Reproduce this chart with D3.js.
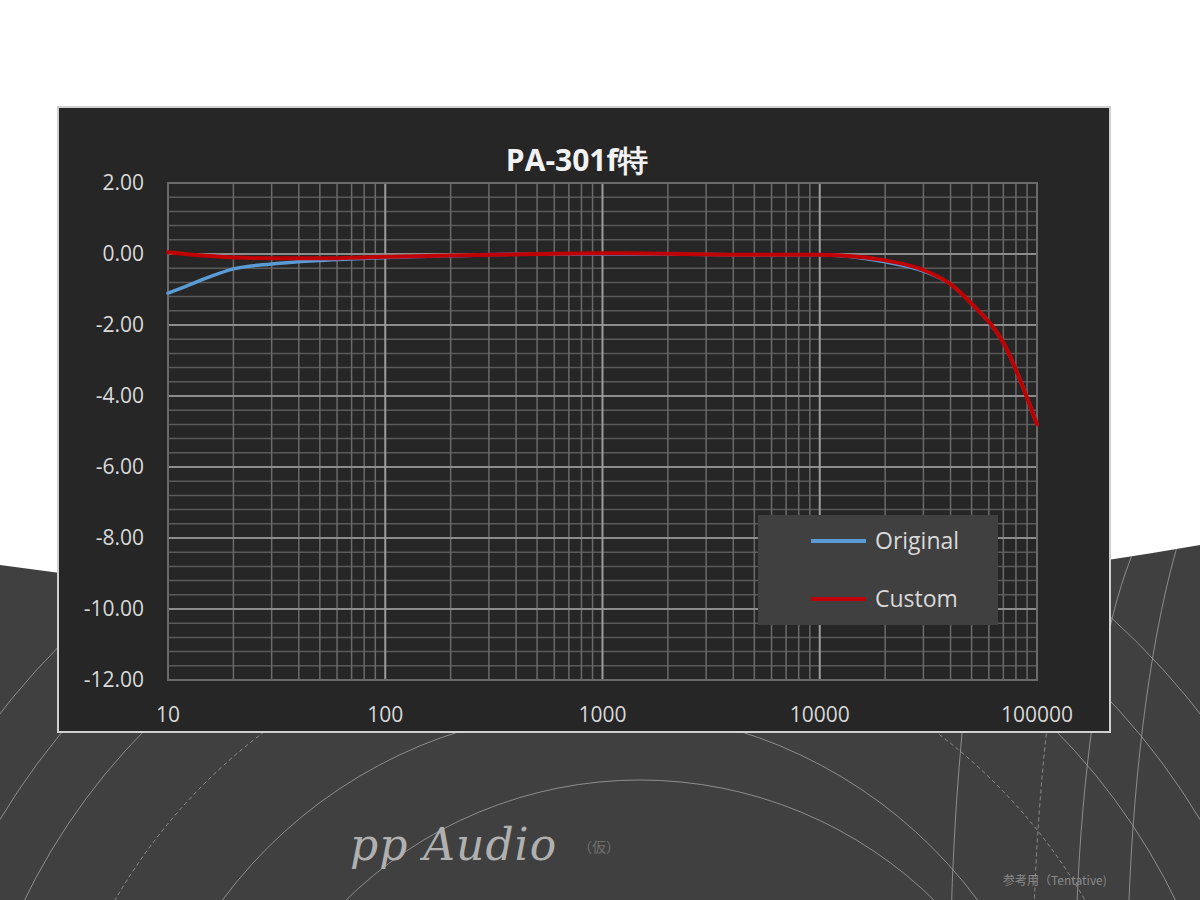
<!DOCTYPE html>
<html><head><meta charset="utf-8">
<script src="https://cdn.jsdelivr.net/npm/d3@7"></script>
<style>body{margin:0;background:#fff}svg{display:block}</style></head>
<body><svg id="c" width="1200" height="900"></svg>
<script>
const freqs = [10, 12, 15, 20, 30, 50, 100, 200, 500, 1000, 2000, 5000, 10000, 15000, 20000, 30000, 40000, 50000, 70000, 100000];
const original = [-1.1, -0.92, -0.68, -0.42, -0.28, -0.18, -0.1, -0.05, 0, 0, 0, -0.03, -0.02, -0.1, -0.22, -0.48, -0.85, -1.4, -2.5, -4.8];
const custom = [0.05, 0.0, -0.05, -0.1, -0.12, -0.12, -0.08, -0.04, 0, 0.02, 0.01, -0.02, -0.02, -0.08, -0.18, -0.45, -0.85, -1.4, -2.5, -4.8];
const yTicks = [2, 0, -2, -4, -6, -8, -10, -12];
const xTicks = [10, 100, 1000, 10000, 100000];
const seriesNames = ["Original", "Custom"];
const colors = ["#5b9bd5", "#c00000"];
const font = "'Liberation Sans Narrow','Open Sans',sans-serif";

const svg = d3.select("#c");
const bgPath = "M0,565 Q600,650 1200,545 L1200,900 L0,900 Z";
svg.append("path").attr("d",bgPath).attr("fill","#404040");
const cp = svg.append("clipPath").attr("id","bg");
cp.append("path").attr("d",bgPath);
const deco = svg.append("g").attr("fill","none").attr("stroke","#a0a0a0").attr("stroke-width",0.8).attr("clip-path","url(#bg)");
[[600,1180,700,false],[600,1180,640,false],[600,1180,560,true],[600,1180,470,false],[640,1200,420,false],[600,1180,760,false]].forEach(([cx,cy,r,dash])=>{
  const c = deco.append("circle").attr("cx",cx).attr("cy",cy).attr("r",r);
  if(dash) c.attr("stroke-dasharray","4,3");
});
[[1180,300,false],[1190,450,true],[1160,600,false],[1260,380,false]].forEach(([cx,r,dash])=>{
  const c = deco.append("ellipse").attr("cx",cx).attr("cy",1000).attr("rx",r*0.35).attr("ry",r+200);
  if(dash) c.attr("stroke-dasharray","4,3");
});

svg.append("text").attr("x",350).attr("y",860).attr("fill","#b0b0b0").attr("font-family","'DejaVu Serif',serif").attr("font-style","italic").attr("font-size",44).attr("letter-spacing",1).text("pp Audio");
svg.append("text").attr("x",578).attr("y",852).attr("fill","#707070").attr("font-family","'Noto Sans CJK JP'").attr("font-size",14).text("（仮）");
svg.append("text").attr("x",1003).attr("y",885).attr("fill","#8a8a8a").attr("font-family","'Noto Sans CJK JP'").attr("font-size",12).text("参考用（Tentative)");

svg.append("rect").attr("x",58).attr("y",107).attr("width",1052).attr("height",625).attr("fill","#262626").attr("stroke","#d0d0d0").attr("stroke-width",2);
svg.append("text").attr("x",577).attr("y",171).attr("text-anchor","middle").attr("fill","#f2f2f2").attr("font-family","'Open Sans',sans-serif").attr("font-weight","bold").attr("font-size",30).text("PA-301f特");

const x = d3.scaleLog().domain([10,100000]).range([168,1037]);
const y = d3.scaleLinear().domain([-12,2]).range([680,183]);
const g = svg.append("g");
d3.range(-12,2.001,0.4).forEach(v=>{
  g.append("line").attr("x1",168).attr("x2",1037).attr("y1",y(v)).attr("y2",y(v)).attr("stroke","#5a5a5a").attr("stroke-width",1.5);
});
for(let d=10; d<100000; d*=10) for(let k=2;k<10;k++){
  g.append("line").attr("x1",x(d*k)).attr("x2",x(d*k)).attr("y1",183).attr("y2",680).attr("stroke","#6a6a6a").attr("stroke-width",1.5);
}
yTicks.forEach(v=>g.append("line").attr("x1",168).attr("x2",1037).attr("y1",y(v)).attr("y2",y(v)).attr("stroke","#8c8c8c").attr("stroke-width",2));
xTicks.forEach(v=>g.append("line").attr("x1",x(v)).attr("x2",x(v)).attr("y1",183).attr("y2",680).attr("stroke","#9c9c9c").attr("stroke-width",2));
g.append("rect").attr("x",168).attr("y",183).attr("width",869).attr("height",497).attr("fill","none").attr("stroke","#6a6a6a").attr("stroke-width",2);

yTicks.forEach(v=>g.append("text").attr("x",144).attr("y",y(v)+7).attr("text-anchor","end").attr("fill","#d9d9d9").attr("font-family",font).attr("font-size",21).text(v.toFixed(2)));
xTicks.forEach(v=>g.append("text").attr("x",x(v)).attr("y",722).attr("text-anchor","middle").attr("fill","#d9d9d9").attr("font-family",font).attr("font-size",21).text(v));

const line = d3.line().x((d,i)=>x(freqs[i])).y(d=>y(d)).curve(d3.curveMonotoneX);
[original, custom].forEach((s,i)=>{
  svg.append("path").attr("d",line(s)).attr("fill","none").attr("stroke",colors[i]).attr("stroke-width",i?4:3.5).attr("stroke-linecap","round");
});

svg.append("rect").attr("x",758).attr("y",515).attr("width",240).attr("height",110).attr("fill","#404040");
seriesNames.forEach((n,i)=>{
  const yy = 541 + i*58;
  svg.append("line").attr("x1",811).attr("x2",866).attr("y1",yy).attr("y2",yy).attr("stroke",colors[i]).attr("stroke-width",4);
  svg.append("text").attr("x",875).attr("y",yy+8).attr("fill","#d9d9d9").attr("font-family",font).attr("font-size",23).text(n);
});
</script></body></html>
